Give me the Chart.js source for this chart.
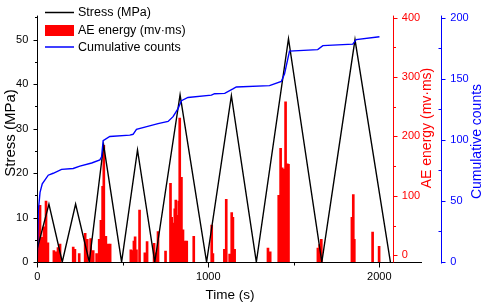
<!DOCTYPE html>
<html>
<head>
<meta charset="utf-8">
<script src="https://cdn.jsdelivr.net/npm/chart.js@4"></script>
<style>
  html, body { margin: 0; padding: 0; background: #fff; }
  canvas { display: block; }
</style>
</head>
<body>
<canvas id="chart" width="484" height="307"></canvas>
<script>
// Stress loading cycles (time s, MPa)
const stressTime = [0, 68, 146, 224, 304, 388, 493, 586, 687, 835, 990, 1135, 1281, 1469, 1664, 1858, 2065];
const stressVal  = [3, 13, 0, 13, 0, 26.3, 0, 25.2, 0, 37.6, 0, 37.4, 0, 50.2, 0, 50, 0];

// AE energy bars (time s, mv·ms)
const energyTime = [4, 16, 27, 39, 51, 62, 97, 109, 121, 133, 210, 220, 245,
  280, 292, 312, 327, 347, 362, 372, 382, 389, 401, 414, 426,
  547, 555, 565, 572, 580, 598, 629, 642, 683, 693, 706, 750,
  779, 786, 796, 804, 810, 817, 827, 833, 843, 852, 864, 874, 915,
  1020, 1027, 1094, 1105, 1125, 1137, 1144, 1154, 1349, 1362,
  1412, 1423, 1432, 1442, 1452, 1462, 1469, 1641, 1651, 1661,
  1840, 1848, 1854, 1961, 1999];
const energyVal = [62, 84, 30, 48, 91, 21, 8, 6, 13, 19, 14, 10, 3,
  37, 27, 28, 8, 3, 27, 59, 116, 185, 32, 19, 19,
  9, 8, 24, 31, 9, 76, 4, 23, 20, 4, 40, 7,
  121, 64, 54, 78, 93, 67, 91, 231, 131, 43, 24, 24, 32,
  51, 3, 10, 94, 2, 72, 64, 10, 12, 6,
  101, 180, 147, 145, 258, 154, 153, 12, 18, 27,
  64, 102, 27, 39, 15];

// Cumulative AE counts (time s, counts)
const countTime = [0, 6, 16, 29, 64, 93, 142, 210, 249, 318, 366, 376, 385, 424, 541, 560, 580, 629,
  706, 765, 794, 823, 843, 881, 1018, 1037, 1096, 1144, 1164, 1358, 1427, 1446, 1475,
  1640, 1670, 1845, 1865, 2001];
const countVal = [0, 42, 57, 64, 71, 72.6, 75.8, 76.5, 78.4, 81, 83.6, 86, 99.3, 102.7, 103.8, 104.5, 108.5, 110.3,
  113.2, 115, 118.9, 125.5, 132, 134.6, 136.5, 137.7, 138, 141.6, 143.2, 144.3, 147.7, 154, 172.5,
  173.8, 177, 178.3, 182, 184.3];

// tick labels
const timeTicks = [0, 1000, 2000];
const stressTicks = [0, 10, 20, 30, 40, 50];
const energyTicks = [0, 100, 200, 300, 400];
const countTicks = [0, 50, 100, 150, 200];

const FONT = '"Liberation Sans", Arial, sans-serif';
const RED = '#ff0000';
const BLUE = '#0000ff';

const pts = (xs, ys) => xs.map((x, i) => ({ x: x, y: ys[i] }));
const setTicks = (vals) => (scale) => { scale.ticks = vals.map(v => ({ value: v })); };
const minorsOf = (vals, max) => {
  const step = vals[1] - vals[0];
  const out = [];
  for (let v = vals[0] + step / 2; v <= max; v += step) out.push(v);
  return out;
};

// axis lines, tick marks, titles and legend drawn Origin-style
const originAxes = {
  id: 'originAxes',
  afterDraw(chart) {
    const ctx = chart.ctx, a = chart.chartArea, s = chart.scales;
    const L = Math.round(a.left) + 0.5, B = Math.round(a.bottom) + 0.5, T = a.top;
    const R = Math.round(s.yE.left) + 0.5, C = Math.round(s.yC.left) + 0.5;
    ctx.save();
    ctx.lineWidth = 1;
    const seg = (x1, y1, x2, y2, c) => {
      ctx.strokeStyle = c; ctx.beginPath(); ctx.moveTo(x1, y1); ctx.lineTo(x2, y2); ctx.stroke();
    };
    const py = (sc, v) => Math.round(sc.getPixelForValue(v)) + 0.5;

    // axis lines
    seg(L, T, L, B, '#000');
    seg(L, B, 422, B, '#000');
    seg(R, T, R, B, RED);
    seg(C, T, C, B + 1, BLUE);

    // x ticks
    timeTicks.forEach(v => { const x = py(s.x, v); seg(x, B, x, B + 5, '#000'); });
    minorsOf(timeTicks, s.x.max).forEach(v => { const x = py(s.x, v); seg(x, B, x, B + 3, '#000'); });
    // stress ticks
    stressTicks.forEach(v => { const y = py(s.y, v); seg(L - 4, y, L, y, '#000'); });
    minorsOf(stressTicks, s.y.max).forEach(v => { const y = py(s.y, v); seg(L - 2.5, y, L, y, '#000'); });
    // energy ticks
    energyTicks.forEach(v => { const y = py(s.yE, v); seg(R, y, R + 4, y, RED); });
    minorsOf(energyTicks, s.yE.max).forEach(v => { const y = py(s.yE, v); seg(R, y, R + 2.5, y, RED); });
    // count ticks
    countTicks.forEach(v => { const y = py(s.yC, v); seg(C, y, C + 4, y, BLUE); });
    minorsOf(countTicks, s.yC.max).forEach(v => { const y = py(s.yC, v); seg(C - 3, y, C, y, BLUE); });

    // axis titles
    const vtitle = (text, x, y, size, color) => {
      ctx.save();
      ctx.translate(x, y);
      ctx.rotate(-Math.PI / 2);
      ctx.font = size + 'px ' + FONT;
      ctx.fillStyle = color;
      ctx.textAlign = 'center';
      ctx.textBaseline = 'middle';
      ctx.fillText(text, 0, 0);
      ctx.restore();
    };
    vtitle('Stress (MPa)', 10.5, 133, 15, '#000');
    vtitle('AE energy (mv·ms)', 427, 128, 14, RED);
    vtitle('Cumulative counts', 477.5, 141.5, 14, BLUE);
    ctx.font = '13.5px ' + FONT;
    ctx.fillStyle = '#000';
    ctx.textAlign = 'center';
    ctx.textBaseline = 'middle';
    ctx.fillText('Time (s)', 230, 295.5);

    // legend
    const ds = chart.data.datasets;
    const rows = [12.5, 30.5, 47];
    ctx.font = '12.5px ' + FONT;
    ctx.textAlign = 'left';
    ds.forEach((d, i) => {
      const y = rows[i];
      if (d.type === 'bar') {
        ctx.fillStyle = d.backgroundColor;
        ctx.fillRect(45, y - 5.5, 29, 11);
      } else {
        ctx.lineWidth = 1.5;
        seg(45, y, 74, y, d.borderColor);
      }
      ctx.fillStyle = '#000';
      ctx.fillText(d.label, 78, y + 0.5);
    });
    ctx.restore();
  }
};

new Chart(document.getElementById('chart'), {
  type: 'bar',
  data: {
    datasets: [
      { type: 'line', label: 'Stress (MPa)', data: pts(stressTime, stressVal), yAxisID: 'y',
        borderColor: '#000000', borderWidth: 1.4, pointRadius: 0, tension: 0, order: 1 },
      { type: 'bar', label: 'AE energy (mv·ms)', data: pts(energyTime, energyVal), yAxisID: 'yE',
        backgroundColor: RED, barThickness: 2, base: -11.3, grouped: false, order: 2 },
      { type: 'line', label: 'Cumulative counts', data: pts(countTime, countVal), yAxisID: 'yC',
        borderColor: BLUE, borderWidth: 1.4, pointRadius: 0, tension: 0, order: 0 }
    ]
  },
  options: {
    responsive: false,
    animation: false,
    layout: { padding: { top: 5, left: 0, right: 0, bottom: 0 } },
    plugins: { legend: { display: false }, tooltip: { enabled: false } },
    scales: {
      x: {
        type: 'linear', min: 0, max: 2082, offset: false,
        afterBuildTicks: setTicks(timeTicks),
        afterFit: s => { s.height = 45; },
        grid: { display: false, drawTicks: false, offset: false }, border: { display: false },
        ticks: { padding: 8, color: '#000', font: { family: FONT, size: 11 }, maxRotation: 0, autoSkip: false, callback: v => String(v) }
      },
      y: {
        position: 'left', min: 0, max: 55.4, weight: 0,
        afterBuildTicks: setTicks(stressTicks),
        afterFit: s => { s.width = 37.3; },
        grid: { display: false, drawTicks: false }, border: { display: false },
        ticks: { padding: 9, color: '#000', font: { family: FONT, size: 11 }, callback: v => String(v) }
      },
      yE: {
        position: 'right', min: -11.3, max: 403.2, weight: 0,
        afterBuildTicks: setTicks(energyTicks),
        afterFit: s => { s.width = 48; },
        grid: { display: false, drawTicks: false }, border: { display: false },
        ticks: { padding: 8.5, color: RED, font: { family: FONT, size: 11 }, callback: v => String(v) }
      },
      yC: {
        position: 'right', min: 0, max: 201.6, weight: 1,
        afterBuildTicks: setTicks(countTicks),
        afterFit: s => { s.width = 42.7; },
        grid: { display: false, drawTicks: false }, border: { display: false },
        ticks: { padding: 9, color: BLUE, font: { family: FONT, size: 11 }, callback: v => String(v) }
      }
    }
  },
  plugins: [originAxes]
});
</script>
</body>
</html>
